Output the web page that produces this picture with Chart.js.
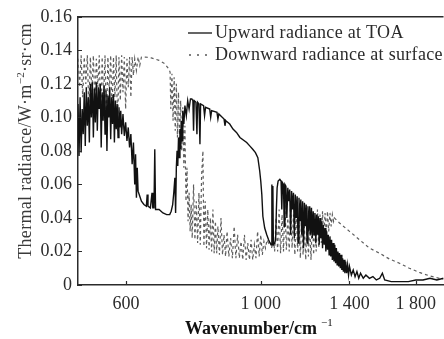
<!DOCTYPE html>
<html>
<head>
<meta charset="utf-8">
<script src="https://cdn.jsdelivr.net/npm/chart.js@4"></script>
<style>
  html, body { margin: 0; padding: 0; background: #fff; }
  #wrap { position: relative; width: 444px; height: 339px; }
</style>
</head>
<body>
<div id="wrap"><canvas id="chart"></canvas></div>
<script>
// axis ticks
const xTicks = [600, 1000, 1400, 1800];
const xTickLabels = ['600', '1 000', '1 400', '1 800'];
const yTicks = [0, 0.02, 0.04, 0.06, 0.08, 0.10, 0.12, 0.14, 0.16];
const yTickLabels = ['0', '0.02', '0.04', '0.06', '0.08', '0.10', '0.12', '0.14', '0.16'];

const seriesNames = ['Upward radiance at TOA', 'Downward radiance at surface'];

// upward radiance at TOA
const upWavenumber = [
  500, 502, 504, 506, 508, 510, 512, 514, 516, 518, 520, 522, 524, 526, 528, 530,
  532, 534, 536, 538, 540, 542, 544, 546, 548, 550, 552, 554, 556, 558, 560, 562,
  564, 566, 568, 570, 572, 574, 576, 578, 580, 582, 584, 586, 588, 590, 593, 596,
  599, 602, 605, 608, 611, 614, 617, 620, 622, 624, 626, 628, 632, 636, 642, 648,
  650, 652, 658, 662, 664, 667, 669, 671, 680, 690, 700, 708, 712, 716, 719, 722,
  724, 726, 728, 730, 732, 734, 736, 738, 740, 742, 744, 747, 750, 754, 758, 762,
  766, 770, 773, 775, 777, 782, 785, 787, 791, 794, 796, 805, 808, 811, 824, 827,
  830, 847, 850, 853, 870, 873, 876, 889, 900, 912, 924, 948, 959, 970, 980, 989,
  996, 1000, 1004, 1008, 1015, 1023, 1030, 1036, 1041, 1043, 1045, 1047, 1049, 1054, 1058, 1061,
  1064, 1068, 1075, 1080, 1083, 1086, 1090, 1093, 1096, 1100, 1104, 1108, 1112, 1116, 1120, 1124,
  1128, 1132, 1136, 1140, 1144, 1148, 1152, 1156, 1160, 1164, 1168, 1172, 1176, 1180, 1184, 1188,
  1192, 1196, 1200, 1204, 1208, 1212, 1216, 1220, 1224, 1228, 1232, 1236, 1240, 1244, 1248, 1252,
  1256, 1260, 1264, 1268, 1272, 1276, 1280, 1284, 1288, 1292, 1296, 1300, 1304, 1308, 1312, 1316,
  1320, 1324, 1328, 1332, 1336, 1340, 1344, 1348, 1352, 1356, 1360, 1364, 1368, 1372, 1376, 1380,
  1385, 1390, 1395, 1400, 1410, 1420, 1430, 1440, 1450, 1460, 1475, 1490, 1510, 1530, 1550, 1570,
  1586, 1600, 1640, 1690, 1750, 1800, 1850, 1900, 1950, 2000
];
const upRadiance = [
  .108, .077, .112, .079, .105, .090, .115, .083, .118, .095, .112, .085, .120, .100, .121, .088,
  .117, .097, .121, .092, .118, .105, .120, .082, .115, .098, .119, .090, .116, .080, .113, .100,
  .118, .087, .112, .096, .114, .085, .110, .093, .108, .088, .106, .094, .104, .090, .102, .089,
  .097, .086, .094, .082, .090, .072, .085, .060, .078, .052, .070, .056, .053, .050, .048, .047,
  .054, .047, .046, .055, .046, .046, .081, .045, .045, .043, .042, .042, .044, .048, .055, .064,
  .043, .070, .080, .071, .088, .076, .093, .081, .098, .086, .104, .096, .107, .101, .110, .105,
  .111, .111, .110, .092, .110, .109, .090, .109, .108, .084, .108, .107, .101, .106, .105, .100,
  .104, .103, .099, .102, .099, .095, .098, .096, .093, .091, .088, .085, .083, .081, .079, .076,
  .068, .062, .054, .041, .034, .030, .027, .025, .024, .060, .024, .059, .024, .025, .027, .045,
  .058, .062, .063, .062, .045, .061, .060, .035, .060, .059, .040, .058, .050, .057, .030, .056,
  .045, .055, .028, .054, .040, .053, .025, .052, .038, .051, .030, .050, .022, .049, .035, .048,
  .025, .047, .032, .047, .030, .046, .028, .044, .030, .043, .025, .042, .030, .041, .024, .040,
  .028, .038, .022, .036, .024, .034, .020, .032, .021, .030, .018, .029, .017, .027, .015, .025,
  .014, .024, .013, .022, .012, .020, .011, .019, .010, .018, .009, .016, .008, .015, .007, .014,
  .007, .012, .006, .011, .006, .009, .005, .008, .004, .007, .004, .006, .004, .005, .003, .004,
  .007, .003, .002, .002, .002, .003, .003, .004, .003, .004
];

// downward radiance at surface
const downWavenumber = [
  500, 503, 506, 509, 512, 515, 518, 521, 524, 527, 530, 533, 536, 539, 542, 545,
  548, 551, 554, 557, 560, 563, 566, 569, 572, 575, 578, 581, 584, 587, 590, 593,
  596, 599, 602, 605, 608, 611, 614, 617, 620, 624, 628, 632, 636, 645, 660, 680,
  695, 705, 709, 711, 714, 717, 720, 723, 726, 729, 732, 735, 738, 741, 744, 747,
  750, 753, 756, 759, 762, 765, 768, 771, 775, 779, 783, 787, 791, 795, 799, 803,
  806, 810, 814, 818, 822, 826, 830, 834, 838, 842, 846, 850, 855, 860, 865, 870,
  875, 880, 886, 892, 898, 904, 910, 916, 922, 928, 934, 940, 946, 952, 958, 964,
  970, 976, 982, 988, 994, 1000, 1006, 1012, 1018, 1024, 1030, 1036, 1042, 1048, 1054, 1060,
  1066, 1072, 1078, 1084, 1090, 1096, 1102, 1108, 1114, 1120, 1126, 1132, 1138, 1144, 1150, 1156,
  1162, 1168, 1174, 1180, 1186, 1192, 1198, 1204, 1210, 1216, 1222, 1228, 1234, 1240, 1246, 1252,
  1258, 1264, 1270, 1276, 1282, 1288, 1294, 1300, 1306, 1312, 1318, 1322, 1348, 1400, 1454, 1510,
  1568, 1629, 1692, 1757, 1825, 1895, 1968, 2000
];
const downRadiance = [
  .135, .118, .137, .112, .136, .120, .137, .105, .136, .115, .137, .108, .135, .118, .137, .100,
  .136, .112, .137, .095, .136, .115, .137, .104, .136, .112, .137, .092, .136, .110, .137, .115,
  .136, .105, .135, .118, .136, .112, .136, .125, .135, .128, .136, .131, .136, .136, .1355, .134,
  .132, .129, .127, .105, .126, .098, .124, .092, .120, .088, .115, .084, .110, .080, .106, .070,
  .095, .050, .070, .038, .055, .032, .048, .028, .060, .027, .050, .025, .055, .024, .065, .080,
  .023, .050, .022, .045, .021, .040, .020, .045, .019, .038, .019, .035, .018, .040, .018, .030,
  .017, .032, .017, .028, .016, .035, .016, .030, .016, .026, .015, .030, .015, .025, .015, .027,
  .015, .024, .016, .032, .017, .030, .018, .026, .022, .027, .025, .026, .022, .030, .020, .040,
  .020, .045, .019, .042, .020, .048, .021, .040, .020, .050, .022, .042, .018, .045, .020, .038,
  .016, .042, .018, .035, .015, .040, .017, .036, .015, .042, .018, .038, .020, .045, .022, .042,
  .025, .044, .028, .043, .030, .044, .032, .043, .035, .042, .038, .040, .037, .032, .027, .022,
  .019, .0155, .013, .010, .0075, .0055, .004, .0035
];

const toPoints = (xs, ys) => xs.map((x, i) => ({ x: x, y: ys[i] }));

const serif = "'Liberation Serif', 'Times New Roman', serif";
const ink = '#2b2b2b';

// frame top line, inward ticks, legend and axis titles
const decorations = {
  id: 'decorations',
  afterDraw(chart) {
    const ctx = chart.ctx;
    const area = chart.chartArea;
    const xs = chart.scales.x;
    const ys = chart.scales.y;
    ctx.save();

    ctx.strokeStyle = ink;
    ctx.lineWidth = 1.5;
    ctx.beginPath();
    ctx.moveTo(area.left, area.top);
    ctx.lineTo(area.right, area.top);
    ctx.stroke();

    ctx.lineWidth = 1.2;
    ctx.beginPath();
    xTicks.forEach(v => {
      const px = Math.round(xs.getPixelForValue(v)) + 0.5;
      ctx.moveTo(px, area.bottom);
      ctx.lineTo(px, area.bottom - 4);
    });
    yTicks.forEach(v => {
      const py = Math.round(ys.getPixelForValue(v)) + 0.5;
      ctx.moveTo(area.left, py);
      ctx.lineTo(area.left + 4, py);
    });
    ctx.stroke();

    // legend
    ctx.font = '18px ' + serif;
    ctx.letterSpacing = '0.3px';
    ctx.fillStyle = ink;
    ctx.textBaseline = 'middle';
    ctx.textAlign = 'left';
    ctx.strokeStyle = '#111';
    ctx.lineWidth = 1.3;
    ctx.beginPath();
    ctx.moveTo(188, 33);
    ctx.lineTo(212, 33);
    ctx.stroke();
    ctx.fillText(seriesNames[0], 215, 33);
    ctx.strokeStyle = '#555';
    ctx.setLineDash([2, 6]);
    ctx.beginPath();
    ctx.moveTo(189, 55);
    ctx.lineTo(212, 55);
    ctx.stroke();
    ctx.setLineDash([]);
    ctx.fillText(seriesNames[1], 215, 55);

    // y title
    const parts = [
      { t: 'Thermal radiance/W\u00b7m', f: '18px ' + serif, dy: 0 },
      { t: '\u22122', f: '11px ' + serif, dy: -7 },
      { t: '\u00b7sr\u00b7cm', f: '18px ' + serif, dy: 0 }
    ];
    let total = 0;
    parts.forEach(p => { ctx.font = p.f; p.w = ctx.measureText(p.t).width; total += p.w; });
    ctx.translate(31, 141);
    ctx.rotate(-Math.PI / 2);
    ctx.textBaseline = 'alphabetic';
    ctx.fillStyle = '#3a3a3a';
    let cx = -total / 2;
    parts.forEach(p => { ctx.font = p.f; ctx.fillText(p.t, cx, p.dy); cx += p.w; });
    ctx.setTransform(1, 0, 0, 1, 0, 0);

    // x title
    ctx.letterSpacing = '0px';
    ctx.fillStyle = '#111';
    ctx.font = 'bold 18px ' + serif;
    ctx.fillText('Wavenumber/cm', 185, 334);
    const w = ctx.measureText('Wavenumber/cm').width;
    ctx.font = '11px ' + serif;
    ctx.fillText('\u22121', 185 + w + 4, 326);

    ctx.restore();
  }
};

new Chart(document.getElementById('chart'), {
  type: 'line',
  data: {
    datasets: [
      {
        label: seriesNames[0],
        data: toPoints(upWavenumber, upRadiance),
        borderColor: '#111',
        borderWidth: 1.4,
        pointRadius: 0,
        tension: 0,
        fill: false
      },
      {
        label: seriesNames[1],
        data: toPoints(downWavenumber, downRadiance),
        borderColor: '#5e5e5e',
        borderWidth: 1.2,
        borderDash: [3, 3],
        pointRadius: 0,
        tension: 0,
        fill: false
      }
    ]
  },
  options: {
    responsive: true,
    maintainAspectRatio: false,
    animation: false,
    layout: { padding: { top: 15, right: 0, left: 0, bottom: 0 } },
    plugins: {
      legend: { display: false },
      tooltip: { enabled: false }
    },
    scales: {
      x: {
        type: 'logarithmic',
        min: 500,
        max: 2000,
        afterBuildTicks: scale => { scale.ticks = xTicks.map(v => ({ value: v })); },
        afterFit: scale => { scale.height = 54; },
        grid: { display: false, drawTicks: false },
        border: { display: true, color: ink, width: 1.5 },
        ticks: {
          autoSkip: false,
          maxRotation: 0,
          padding: 8,
          color: ink,
          font: { family: serif, size: 18 },
          callback: (v, i) => xTickLabels[i]
        }
      },
      y: {
        min: 0,
        max: 0.16,
        afterBuildTicks: scale => { scale.ticks = yTicks.map(v => ({ value: v })); },
        afterFit: scale => { scale.width = 78; },
        grid: { display: false, drawTicks: false },
        border: { display: true, color: ink, width: 1.5 },
        ticks: {
          autoSkip: false,
          padding: 6,
          color: ink,
          font: { family: serif, size: 18 },
          callback: (v, i) => yTickLabels[i]
        }
      }
    }
  },
  plugins: [decorations]
});
</script>
</body>
</html>
